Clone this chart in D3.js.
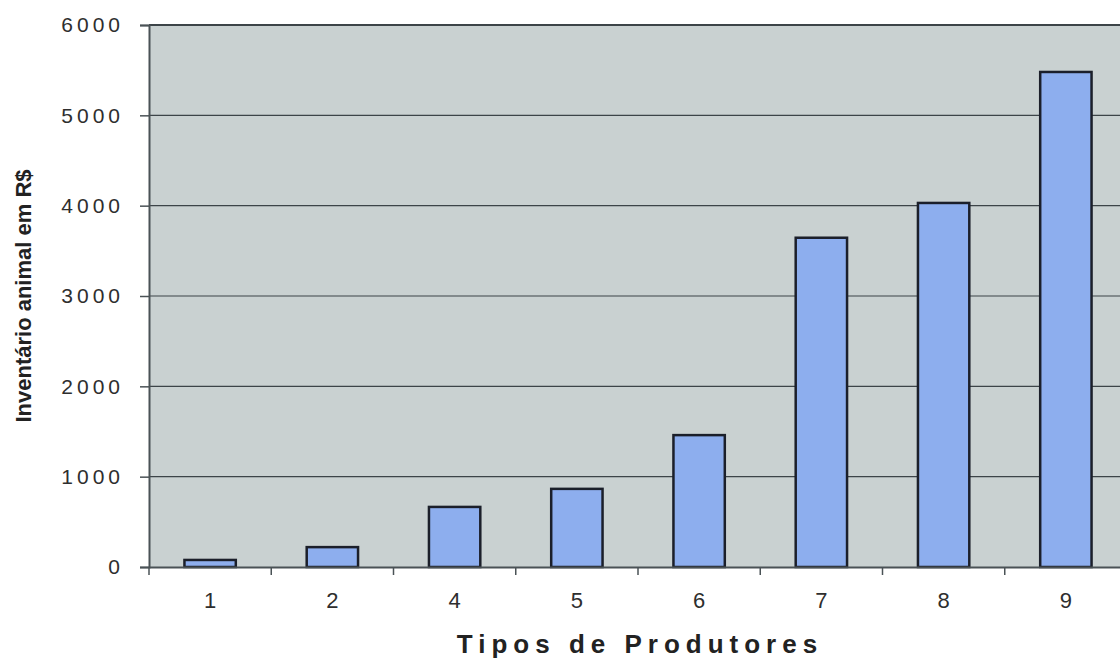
<!DOCTYPE html>
<html>
<head>
<meta charset="utf-8">
<script src="https://cdn.jsdelivr.net/npm/d3@7"></script>
<style>
  html, body { margin: 0; padding: 0; background: #ffffff; }
  svg { display: block; }
</style>
</head>
<body>
<svg id="chart" width="1120" height="659"></svg>
<script>
// Producer types and animal inventory (R$)
const categories = ["1", "2", "4", "5", "6", "7", "8", "9"];
const inventory = [78, 220, 665, 865, 1460, 3645, 4030, 5480];
const yTicks = [0, 1000, 2000, 3000, 4000, 5000, 6000];

const svg = d3.select("#chart");
const plotLeft = 149, plotRight = 1127, plotTop = 25, plotBottom = 567;
const font = "Liberation Sans, Arial, sans-serif";

const x = d3.scaleBand().domain(categories).range([plotLeft, plotRight]).paddingInner(0.58).paddingOuter(0.29);
const xTick = d3.scaleBand().domain(categories).range([plotLeft, plotRight]);
const y = d3.scaleLinear().domain([0, 6000]).range([plotBottom, plotTop]);

// plot area
svg.append("rect")
  .attr("x", plotLeft).attr("y", plotTop)
  .attr("width", plotRight - plotLeft).attr("height", plotBottom - plotTop)
  .attr("fill", "#c9d1d1");

// gridlines
svg.append("g").selectAll("line").data(yTicks.filter(d => d > 0)).join("line")
  .attr("x1", plotLeft).attr("x2", plotRight)
  .attr("y1", d => y(d)).attr("y2", d => y(d))
  .attr("stroke", "#3c4448").attr("stroke-width", d => d === 6000 ? 2 : 1.2);

// bars
svg.append("g").selectAll("rect").data(inventory).join("rect")
  .attr("x", (d, i) => x(categories[i]))
  .attr("y", d => y(d))
  .attr("width", x.bandwidth())
  .attr("height", d => plotBottom - y(d))
  .attr("fill", "#8daeee")
  .attr("stroke", "#1b1f2a")
  .attr("stroke-width", 2.5);

// y axis
const yAxis = svg.append("g").attr("transform", `translate(${plotLeft},0)`)
  .call(d3.axisLeft(y).tickValues(yTicks).tickSize(9).tickPadding(16).tickFormat(d3.format("d")));
yAxis.select(".domain").attr("stroke", "#4a5256").attr("stroke-width", 2);
yAxis.selectAll(".tick line").attr("stroke", "#4a5256").attr("stroke-width", 1.5);
yAxis.selectAll(".tick text")
  .attr("font-family", font)
  .attr("font-size", 21).attr("letter-spacing", "4px").attr("fill", "#2e2e2e");

// x axis
const xAxis = svg.append("g").attr("transform", `translate(0,${plotBottom})`)
  .call(d3.axisBottom(x).tickSize(0).tickPadding(25));
xAxis.select(".domain").attr("stroke", "#4a5256").attr("stroke-width", 2);
xAxis.selectAll(".tick text")
  .attr("font-family", font)
  .attr("font-size", 22).attr("fill", "#2e2e2e");
// category separators below the baseline
svg.append("g").selectAll("line").data(categories).join("line")
  .attr("x1", d => xTick(d)).attr("x2", d => xTick(d))
  .attr("y1", plotBottom).attr("y2", plotBottom + 8)
  .attr("stroke", "#4a5256").attr("stroke-width", 1.5);

// axis titles
svg.append("text")
  .attr("x", 640).attr("y", 653)
  .attr("text-anchor", "middle")
  .attr("font-family", font)
  .attr("font-weight", "bold").attr("font-size", 26)
  .attr("letter-spacing", "6px").attr("fill", "#222")
  .text("Tipos de Produtores");

svg.append("text")
  .attr("transform", "translate(31,296) rotate(-90)")
  .attr("text-anchor", "middle")
  .attr("font-family", font)
  .attr("font-weight", "bold").attr("font-size", 22)
  .attr("fill", "#222")
  .text("Inventário animal em R$");
</script>
</body>
</html>
